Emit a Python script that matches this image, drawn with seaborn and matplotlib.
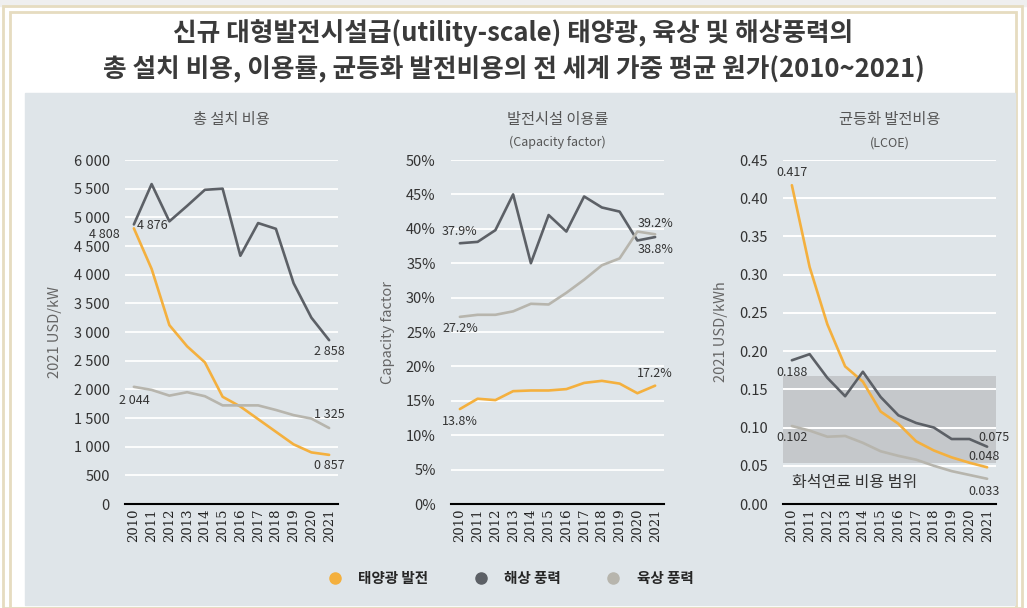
import pandas as pd
import matplotlib.pyplot as plt
import seaborn as sns
from matplotlib.patches import Rectangle
from matplotlib.lines import Line2D

years = list(range(2010, 2022))
series_names = ["태양광 발전", "해상 풍력", "육상 풍력"]
colors = ["#f4b03e", "#5c6066", "#b7b5ad"]

# 총 설치 비용 (2021 USD/kW)
cost_solar = [4808, 4100, 3120, 2750, 2470, 1870, 1700, 1480, 1260, 1040, 900, 857]
cost_offshore = [4876, 5580, 4930, 5200, 5480, 5500, 4330, 4900, 4800, 3850, 3250, 2858]
cost_onshore = [2044, 1990, 1890, 1950, 1880, 1720, 1720, 1720, 1640, 1550, 1490, 1325]

# 발전시설 이용률 (%)
cf_solar = [13.8, 15.3, 15.1, 16.4, 16.5, 16.5, 16.7, 17.6, 17.9, 17.5, 16.1, 17.2]
cf_offshore = [37.9, 38.1, 39.8, 45.0, 35.0, 42.0, 39.6, 44.7, 43.1, 42.5, 38.3, 38.8]
cf_onshore = [27.2, 27.5, 27.5, 28.0, 29.1, 29.0, 30.7, 32.6, 34.7, 35.7, 39.6, 39.2]

# 균등화 발전비용 (2021 USD/kWh)
lcoe_solar = [0.417, 0.310, 0.235, 0.180, 0.160, 0.121, 0.105, 0.082, 0.070, 0.061, 0.054, 0.048]
lcoe_offshore = [0.188, 0.196, 0.165, 0.141, 0.173, 0.140, 0.116, 0.106, 0.100, 0.085, 0.085, 0.075]
lcoe_onshore = [0.102, 0.096, 0.088, 0.089, 0.080, 0.069, 0.063, 0.058, 0.050, 0.043, 0.038, 0.033]
fossil_range = [0.054, 0.167]

sns.set_theme(style="white")
plt.rcParams['font.family'] = ['Noto Sans CJK KR', 'DejaVu Sans']

fig = plt.figure(figsize=(10.27, 6.08), dpi=100)
fig.patch.set_facecolor("white")

# 바깥 테두리와 회색 패널
fig.patches.append(Rectangle((0, 0.99), 1, 0.01, transform=fig.transFigure, color="#efefef", zorder=-10))
fig.patches.append(Rectangle((0.003, 0), 0.992, 0.99, transform=fig.transFigure, fill=False,
                             edgecolor="#e6dcc0", lw=2, zorder=-9))
fig.patches.append(Rectangle((0.0095, 0), 0.98, 0.98, transform=fig.transFigure, fill=False,
                             edgecolor="#e6dcc0", lw=2, zorder=-9))
fig.patches.append(Rectangle((25 / 1027, 3 / 608), 990 / 1027, 512 / 608, transform=fig.transFigure,
                             color="#dfe5e9", zorder=-8))

fig.text(0.5, 0.945, "신규 대형발전시설급(utility-scale) 태양광, 육상 및 해상풍력의",
         ha="center", va="center", fontsize=18.5, fontweight="bold", color="#3a3a3a")
fig.text(0.5, 0.888, "총 설치 비용, 이용률, 균등화 발전비용의 전 세계 가중 평균 원가(2010~2021)",
         ha="center", va="center", fontsize=18.5, fontweight="bold", color="#3a3a3a")


def make_df(a, b, c, col):
    rows = []
    for name, vals in zip(series_names, [a, b, c]):
        for y, v in zip(years, vals):
            rows.append({"year": y, "series": name, col: v})
    return pd.DataFrame(rows)


def style_axes(ax, ylim, yticks, ylabels, ylabel):
    ax.set_facecolor("none")
    ax.set_xlim(2009.5, 2021.5)
    ax.set_ylim(*ylim)
    ax.set_yticks(yticks)
    ax.set_yticklabels(ylabels, fontsize=10.5, color="#333333")
    ax.set_xticks(years)
    ax.set_xticklabels([str(y) for y in years], rotation=90, fontsize=9.5,
                       family="DejaVu Serif", color="#222222")
    ax.set_xticks([y - 0.5 for y in years] + [2021.5], minor=True)
    ax.tick_params(axis="x", which="major", length=0, pad=3)
    ax.tick_params(axis="x", which="minor", length=4, width=1.2, color="black", direction="inout")
    ax.tick_params(axis="y", length=0, pad=11)
    for s in ["left", "right", "top"]:
        ax.spines[s].set_visible(False)
    ax.spines["bottom"].set_color("black")
    ax.spines["bottom"].set_linewidth(1.5)
    ax.grid(axis="y", color="white", lw=1.3)
    ax.set_axisbelow(True)
    ax.set_xlabel("")
    ax.set_ylabel(ylabel, fontsize=10.5, color="#666666", labelpad=8)
    leg = ax.get_legend()
    if leg is not None:
        leg.remove()


bottom = (608 - 504) / 608
height = 344 / 608
ax1 = fig.add_axes([125 / 1027, bottom, 213 / 1027, height])
ax2 = fig.add_axes([451 / 1027, bottom, 213 / 1027, height])
ax3 = fig.add_axes([783 / 1027, bottom, 213 / 1027, height])

pal = dict(zip(series_names, colors))
lab = dict(fontsize=9, color="#333333", clip_on=False)
ttl = dict(fontsize=11, color="#555555", pad=26)

# 패널 1
df1 = make_df(cost_solar, cost_offshore, cost_onshore, "value")
sns.lineplot(data=df1, x="year", y="value", hue="series", palette=pal, lw=1.9, ax=ax1)
style_axes(ax1, (0, 6000), range(0, 6001, 500),
           [f"{v:,}".replace(",", " ") for v in range(0, 6001, 500)], "2021 USD/kW")
ax1.set_title("총 설치 비용", **ttl)
ax1.text(2009.2, cost_solar[0] - 110, "4 808", ha="right", va="center", **lab)
ax1.text(2010.2, cost_offshore[0] - 20, "4 876", ha="left", va="center", **lab)
ax1.text(2010, cost_onshore[0] - 120, "2 044", ha="center", va="top", **lab)
ax1.text(2021.0, cost_offshore[-1] - 80, "2 858", ha="center", va="top", **lab)
ax1.text(2021.0, cost_onshore[-1] + 120, "1 325", ha="center", va="bottom", **lab)
ax1.text(2021.0, cost_solar[-1] - 80, "0 857", ha="center", va="top", **lab)

# 패널 2
df2 = make_df(cf_solar, cf_offshore, cf_onshore, "value")
sns.lineplot(data=df2, x="year", y="value", hue="series", palette=pal, lw=1.9, ax=ax2)
style_axes(ax2, (0, 50), range(0, 51, 5), [f"{v}%" for v in range(0, 51, 5)], "Capacity factor")
ax2.set_title("발전시설 이용률", **ttl)
ax2.text(0.5, 1.05, "(Capacity factor)", transform=ax2.transAxes, ha="center", va="center",
         fontsize=9, color="#555555")
ax2.text(2010, cf_offshore[0] + 0.8, "37.9%", ha="center", va="bottom", **lab)
ax2.text(2010, cf_onshore[0] - 0.8, "27.2%", ha="center", va="top", **lab)
ax2.text(2010, cf_solar[0] - 0.8, "13.8%", ha="center", va="top", **lab)
ax2.text(2021, cf_onshore[-1] + 0.6, "39.2%", ha="center", va="bottom", **lab)
ax2.text(2021, cf_offshore[-1] - 0.8, "38.8%", ha="center", va="top", **lab)
ax2.text(2021, cf_solar[-1] + 0.8, "17.2%", ha="center", va="bottom", **lab)

# 패널 3
ax3.axhspan(fossil_range[0], fossil_range[1], color="#c5c8cb", zorder=0.5, lw=0)
df3 = make_df(lcoe_solar, lcoe_offshore, lcoe_onshore, "value")
sns.lineplot(data=df3, x="year", y="value", hue="series", palette=pal, lw=1.9, ax=ax3)
lt = [i * 0.05 for i in range(10)]
style_axes(ax3, (0, 0.45), lt, [f"{v:.2f}" for v in lt], "2021 USD/kWh")
for v in lt[1:]:
    ax3.axhline(v, xmin=0, xmax=1, color="white", lw=1.3, zorder=0.6)
ax3.set_title("균등화 발전비용", **ttl)
ax3.text(0.5, 1.05, "(LCOE)", transform=ax3.transAxes, ha="center", va="center",
         fontsize=9, color="#555555")
ax3.text(2010, lcoe_solar[0] + 0.008, "0.417", ha="center", va="bottom", **lab)
ax3.text(2010, lcoe_offshore[0] - 0.008, "0.188", ha="center", va="top", **lab)
ax3.text(2010, lcoe_onshore[0] - 0.006, "0.102", ha="center", va="top", **lab)
ax3.text(2021.4, lcoe_offshore[-1] + 0.004, "0.075", ha="center", va="bottom", **lab)
ax3.text(2020.8, lcoe_solar[-1] + 0.006, "0.048", ha="center", va="bottom", **lab)
ax3.text(2020.8, lcoe_onshore[-1] - 0.008, "0.033", ha="center", va="top", **lab)
ax3.text(2010, 0.028, "화석연료 비용 범위", ha="left", va="center", fontsize=11.5, color="#333333")

handles = [Line2D([], [], marker="o", ls="", color=c, markersize=8) for c in colors]
fig.legend(handles, series_names, loc="center", bbox_to_anchor=(0.497, 1 - 578 / 608), ncol=3,
           frameon=False, columnspacing=3.1, handlelength=1, handletextpad=1.1,
           prop={"weight": "bold", "size": 10.5})

fig.savefig("out.png", dpi=100, facecolor=fig.get_facecolor())
